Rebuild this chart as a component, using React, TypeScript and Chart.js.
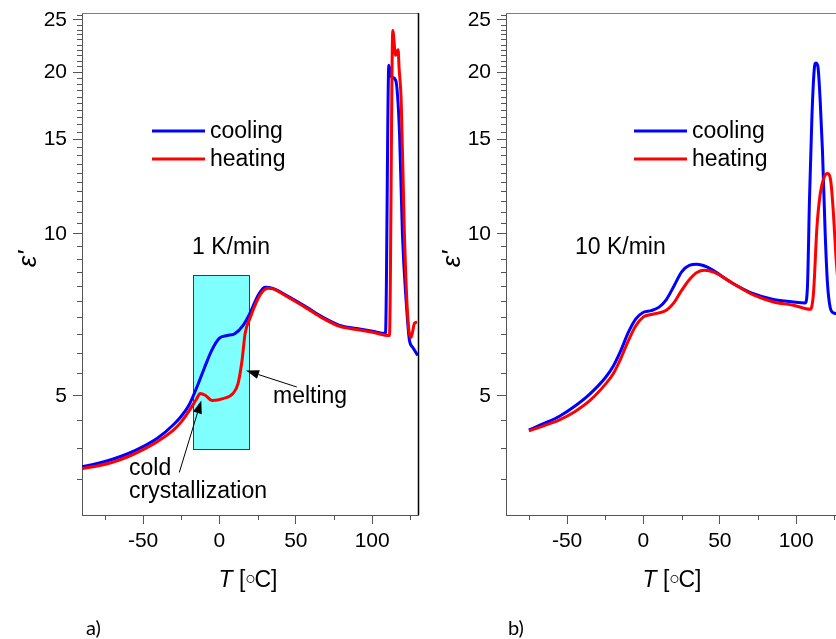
import React, { useEffect, useRef } from "react";
import { Chart, registerables } from "chart.js";

Chart.register(...registerables);

// ε′ vs. temperature, 1 K/min scans
const T_COOL_1K = [-90, -80, -70, -60, -50, -40, -30, -25, -20, -15, -10, -5, 0, 5, 10, 15.5, 20, 24.6, 29.8, 35, 46.1, 57.2, 67.6, 78.7, 89.8, 100.3, 108.7, 110.9, 112.6, 115.4, 117.9, 119.8, 122.2, 124.4, 126.6, 129.8];
const EPS_COOL_1K = [3.69, 3.74, 3.81, 3.9, 4.02, 4.18, 4.42, 4.58, 4.8, 5.17, 5.62, 6.08, 6.4, 6.47, 6.52, 6.76, 7.12, 7.62, 7.96, 7.92, 7.62, 7.3, 7.0, 6.76, 6.67, 6.59, 6.53, 20.6, 19.6, 19.3, 15.4, 10.0, 7.53, 6.34, 6.15, 5.94];
const T_HEAT_1K = [-90, -80, -70, -60, -50, -40, -30, -25, -20, -15, -12.6, -9.3, -4.8, 2.4, 8.9, 12.2, 14.8, 16.8, 20, 26.5, 31.8, 35, 46.1, 57.2, 67.6, 78.7, 89.8, 100.3, 111.3, 113.5, 115.3, 117.0, 117.6, 119.0, 121.1, 123.3, 125.5, 127.7, 129.4];
const EPS_HEAT_1K = [3.66, 3.7, 3.76, 3.85, 3.97, 4.12, 4.32, 4.47, 4.68, 4.93, 5.05, 5.01, 4.9, 4.94, 5.05, 5.27, 5.82, 6.53, 6.97, 7.69, 7.92, 7.9, 7.59, 7.27, 6.97, 6.73, 6.64, 6.56, 6.47, 23.9, 21.5, 22.0, 20.4, 17.7, 10.0, 7.0, 6.42, 6.82, 6.85];

// ε′ vs. temperature, 10 K/min scans
const T_COOL_10K = [-75, -65, -55, -45, -35, -25, -20, -15, -10, -5, 0, 5, 10, 15, 20, 25, 30, 35, 41.5, 58.9, 72, 85.1, 98.2, 105.9, 107.4, 108.7, 110.3, 111.8, 112.9, 114.2, 115.7, 117.2, 119.0, 120.5, 122.3, 124.4, 128];
const EPS_COOL_10K = [4.32, 4.44, 4.58, 4.78, 5.04, 5.4, 5.66, 6.05, 6.55, 6.95, 7.15, 7.2, 7.3, 7.55, 8.0, 8.5, 8.74, 8.78, 8.68, 8.08, 7.74, 7.55, 7.47, 7.44, 8.0, 11.55, 16.5, 20.2, 20.8, 20.5, 17.74, 14.3, 10.0, 8.08, 7.29, 7.13, 7.1];
const T_HEAT_10K = [-75, -65, -55, -45, -35, -25, -20, -15, -10, -5, 0, 5, 10, 15, 20, 25, 30, 35, 40, 45.9, 58.9, 72, 85.1, 98.2, 109.2, 111.3, 113.6, 115.8, 118.4, 120.5, 122.7, 124.4, 126.2, 128];
const EPS_HEAT_10K = [4.3, 4.4, 4.51, 4.67, 4.9, 5.25, 5.48, 5.85, 6.32, 6.75, 7.01, 7.08, 7.13, 7.21, 7.45, 7.85, 8.22, 8.48, 8.56, 8.49, 8.08, 7.7, 7.47, 7.37, 7.24, 7.74, 10.3, 11.9, 12.77, 12.95, 12.5, 10.9, 8.93, 7.8];

// axes
const T_RANGE = [-90, 130];
const EPS_RANGE = [3, 25.76];
const T_TICKS = [-50, 0, 50, 100];
const T_MINOR_TICKS = [-75, -25, 25, 75, 125];
const EPS_TICKS = [5, 10, 15, 20, 25];
const EPS_MINOR_TICKS: number[] = [];
for (let v = 3.5; v <= 25.5; v += 0.5) if (!EPS_TICKS.includes(v)) EPS_MINOR_TICKS.push(v);

// shaded transition window (T from–to, ε′ from–to)
const WINDOW_T = [-17.2, 19.4];
const WINDOW_EPS = [3.97, 8.38];

const SANS = '"Liberation Sans", Arial, Helvetica, sans-serif';
const BLUE = "#0000ff";
const RED = "#ff0000";
const AXIS = "#555555";
const W = 424;
const H = 639;
const PLOT_BOTTOM = 515;

type Pt = [number, number];
type Arrow = { tail: Pt; head: Pt };
type Label = { text: string; x: number; y: number };

type PanelProps = {
  left: number;
  cool: [number[], number[]];
  heat: [number[], number[]];
  legendX: number;
  rate: Label;
  letter: Label;
  notes?: Label[];
  arrows?: Arrow[];
  showWindow?: boolean;
};

const toPoints = (t: number[], e: number[]) => t.map((x, i) => ({ x, y: e[i] }));

function drawArrow(ctx: CanvasRenderingContext2D, x0: number, y0: number, x1: number, y1: number) {
  const a = Math.atan2(y1 - y0, x1 - x0);
  const len = 13;
  const half = 4.5;
  const bx = x1 - len * Math.cos(a);
  const by = y1 - len * Math.sin(a);
  ctx.beginPath();
  ctx.moveTo(x0, y0);
  ctx.lineTo(bx, by);
  ctx.stroke();
  ctx.beginPath();
  ctx.moveTo(x1, y1);
  ctx.lineTo(bx + half * Math.sin(a), by - half * Math.cos(a));
  ctx.lineTo(bx - half * Math.sin(a), by + half * Math.cos(a));
  ctx.closePath();
  ctx.fill();
}

function decorations(p: PanelProps) {
  return {
    id: "panelDecor",
    beforeDatasetsDraw(chart: any) {
      if (!p.showWindow) return;
      const { ctx, scales } = chart;
      const x = scales.x;
      const y = scales.y;
      const l = x.getPixelForValue(WINDOW_T[0]);
      const r = x.getPixelForValue(WINDOW_T[1]);
      const t = y.getPixelForValue(WINDOW_EPS[1]);
      const b = y.getPixelForValue(WINDOW_EPS[0]);
      ctx.save();
      ctx.fillStyle = "#80ffff";
      ctx.fillRect(l, t, r - l, b - t);
      ctx.strokeStyle = "#3c3c3c";
      ctx.lineWidth = 1;
      ctx.strokeRect(Math.round(l) + 0.5, Math.round(t) + 0.5, Math.round(r - l), Math.round(b - t));
      ctx.restore();
    },
    afterDraw(chart: any) {
      const { ctx, chartArea: ca, scales } = chart;
      const x = scales.x;
      const y = scales.y;
      ctx.save();

      // frame: top and right edges
      ctx.lineWidth = 1;
      ctx.strokeStyle = "#808080";
      ctx.beginPath();
      ctx.moveTo(ca.left, Math.round(ca.top) + 0.5);
      ctx.lineTo(ca.right, Math.round(ca.top) + 0.5);
      ctx.stroke();
      ctx.strokeStyle = "#000";
      ctx.lineWidth = 1.5;
      ctx.beginPath();
      ctx.moveTo(Math.round(ca.right) + 0.5, ca.top);
      ctx.lineTo(Math.round(ca.right) + 0.5, ca.bottom);
      ctx.stroke();

      // minor ticks
      ctx.strokeStyle = AXIS;
      ctx.lineWidth = 1;
      ctx.beginPath();
      T_MINOR_TICKS.forEach((v) => {
        const px = Math.round(x.getPixelForValue(v)) + 0.5;
        ctx.moveTo(px, ca.bottom);
        ctx.lineTo(px, ca.bottom + 5);
      });
      EPS_MINOR_TICKS.forEach((v) => {
        const py = Math.round(y.getPixelForValue(v)) + 0.5;
        ctx.moveTo(ca.left - 5, py);
        ctx.lineTo(ca.left, py);
      });
      ctx.stroke();

      // legend
      const ly = [131, 159];
      [BLUE, RED].forEach((c, i) => {
        ctx.strokeStyle = c;
        ctx.lineWidth = 3;
        ctx.beginPath();
        ctx.moveTo(p.legendX, ly[i]);
        ctx.lineTo(p.legendX + 53, ly[i]);
        ctx.stroke();
      });
      ctx.fillStyle = "#000";
      ctx.font = `23px ${SANS}`;
      ctx.textAlign = "left";
      ctx.textBaseline = "alphabetic";
      ctx.fillText("cooling", p.legendX + 58, ly[0] + 7);
      ctx.fillText("heating", p.legendX + 58, ly[1] + 7);

      // rate and annotations
      ctx.fillText(p.rate.text, p.rate.x, p.rate.y);
      (p.notes || []).forEach((n) => ctx.fillText(n.text, n.x, n.y));

      ctx.strokeStyle = "#000";
      ctx.lineWidth = 1;
      (p.arrows || []).forEach((a) => {
        drawArrow(
          ctx,
          x.getPixelForValue(a.tail[0]),
          y.getPixelForValue(a.tail[1]),
          x.getPixelForValue(a.head[0]),
          y.getPixelForValue(a.head[1])
        );
      });

      // y title: ε′
      ctx.save();
      ctx.translate(ca.left - 53, (ca.top + ca.bottom) / 2 - 5);
      ctx.rotate(-Math.PI / 2);
      ctx.textAlign = "center";
      ctx.textBaseline = "middle";
      ctx.font = `italic 26px ${SANS}`;
      ctx.fillText("\u03b5'", 0, 0);
      ctx.restore();

      // x title: T [◦C]  (text, font, vertical shift, left/right trim)
      const base = 587;
      const parts: [string, string, number, number, number][] = [
        ["T", `italic 23px ${SANS}`, 0, 0, 0],
        [" [", `23px ${SANS}`, 0, 0, 0],
        ["\u25e6", `27px "DejaVu Sans", sans-serif`, 2, 3, 4],
        ["C]", `23px ${SANS}`, 0, 0, 0],
      ];
      let total = 0;
      const widths = parts.map(([s, f, , tl, tr]) => {
        ctx.font = f;
        const w = ctx.measureText(s).width - tl - tr;
        total += w;
        return w;
      });
      let cx = (ca.left + ca.right) / 2 - 2 - total / 2;
      parts.forEach(([s, f, dy, tl], i) => {
        ctx.font = f;
        ctx.fillText(s, cx - tl, base + dy);
        cx += widths[i];
      });

      // panel letter
      ctx.font = `20px Lato, "Open Sans", sans-serif`;
      ctx.fillText(p.letter.text, p.letter.x, p.letter.y);

      ctx.restore();
    },
  };
}

function Panel(p: PanelProps) {
  const ref = useRef<HTMLCanvasElement>(null);

  useEffect(() => {
    const chart = new Chart(ref.current as HTMLCanvasElement, {
      type: "line",
      data: {
        datasets: [
          {
            label: "heating",
            data: toPoints(p.heat[0], p.heat[1]),
            borderColor: RED,
            order: 0,
          },
          {
            label: "cooling",
            data: toPoints(p.cool[0], p.cool[1]),
            borderColor: BLUE,
            order: 1,
          },
        ],
      },
      options: {
        animation: false,
        responsive: false,
        devicePixelRatio: 1,
        events: [],
        layout: { autoPadding: false, padding: { left: 0, top: 13, right: 6, bottom: 0 } },
        plugins: { legend: { display: false }, tooltip: { enabled: false } },
        elements: {
          point: { radius: 0 },
          line: { borderWidth: 3, cubicInterpolationMode: "monotone", fill: false },
        },
        scales: {
          x: {
            type: "linear",
            min: T_RANGE[0],
            max: T_RANGE[1],
            afterBuildTicks: (s: any) => {
              s.ticks = T_TICKS.map((value) => ({ value }));
            },
            afterFit: (s: any) => {
              s.height = H - PLOT_BOTTOM;
              s.paddingLeft = 0;
              s.paddingRight = 0;
            },
            ticks: {
              autoSkip: false,
              maxRotation: 0,
              padding: 5,
              color: "#000",
              font: { family: SANS, size: 21 },
              callback: (v: any) => String(v),
            },
            grid: { drawOnChartArea: false, tickLength: 9, color: AXIS, tickColor: AXIS },
            border: { color: AXIS, width: 1 },
          },
          y: {
            type: "logarithmic",
            min: EPS_RANGE[0],
            max: EPS_RANGE[1],
            afterBuildTicks: (s: any) => {
              s.ticks = EPS_TICKS.map((value) => ({ value }));
            },
            afterFit: (s: any) => {
              s.width = 82;
              s.paddingTop = 0;
              s.paddingBottom = 0;
            },
            ticks: {
              autoSkip: false,
              padding: 6,
              color: "#000",
              font: { family: SANS, size: 21 },
              callback: (v: any) => String(v),
            },
            grid: { drawOnChartArea: false, tickLength: 9, color: AXIS, tickColor: AXIS },
            border: { color: AXIS, width: 1 },
          },
        },
      },
      plugins: [decorations(p)],
    } as any);
    return () => chart.destroy();
  }, []);

  return (
    <canvas
      ref={ref}
      width={W}
      height={H}
      style={{ position: "absolute", left: p.left, top: 0, width: W, height: H }}
    />
  );
}

export default function App() {
  return (
    <div
      style={{
        position: "fixed",
        left: 0,
        top: 0,
        width: 836,
        height: 639,
        overflow: "hidden",
        background: "#fff",
      }}
    >
      <Panel
        left={0}
        cool={[T_COOL_1K, EPS_COOL_1K]}
        heat={[T_HEAT_1K, EPS_HEAT_1K]}
        legendX={152}
        rate={{ text: "1 K/min", x: 192, y: 254 }}
        letter={{ text: "a)", x: 86, y: 635 }}
        showWindow
        notes={[
          { text: "melting", x: 273, y: 403 },
          { text: "cold", x: 129, y: 475 },
          { text: "crystallization", x: 129, y: 498 },
        ]}
        arrows={[
          { tail: [50.7, 5.19], head: [17.4, 5.57] },
          { tail: [-26.3, 3.6], head: [-11.9, 4.9] },
        ]}
      />
      <Panel
        left={424}
        cool={[T_COOL_10K, EPS_COOL_10K]}
        heat={[T_HEAT_10K, EPS_HEAT_10K]}
        legendX={210}
        rate={{ text: "10 K/min", x: 151, y: 254 }}
        letter={{ text: "b)", x: 84, y: 635 }}
      />
    </div>
  );
}
